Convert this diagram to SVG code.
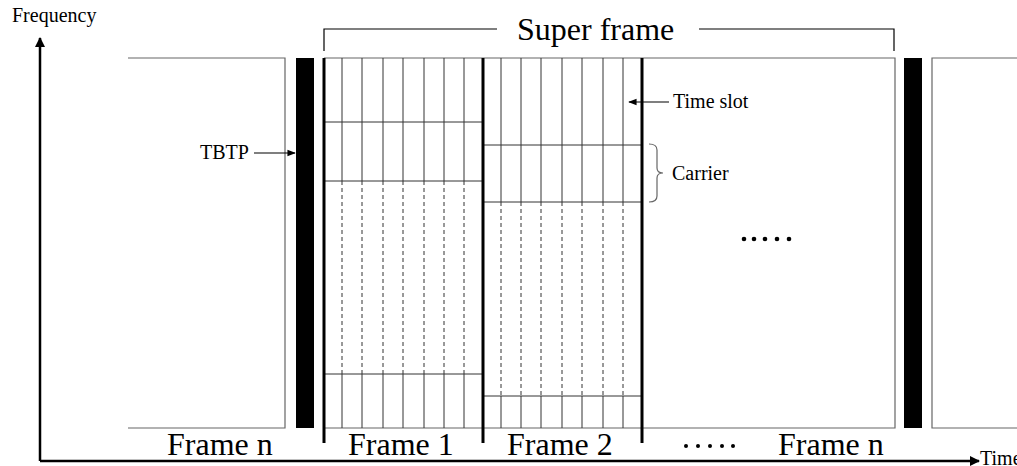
<svg xmlns="http://www.w3.org/2000/svg" width="1017" height="466" viewBox="0 0 1017 466">
<defs>
<style>
.t{font-family:"Liberation Serif","Times New Roman",serif;fill:#000}
.big{font-size:32px}
.sm{font-size:20px}
.thin{stroke:#666;stroke-width:1.2;fill:none}
.slot{stroke:#333;stroke-width:1;fill:none}
.dash{stroke:#333;stroke-width:1;stroke-dasharray:4,3;fill:none}
.thick{stroke:#000;stroke-width:3;fill:none}
.ax{stroke:#000;stroke-width:2.5;fill:none}
.ln{stroke:#000;stroke-width:1.2;fill:none}
</style>
<marker id="ah" viewBox="0 0 10 10" refX="9" refY="5" markerWidth="4" markerHeight="4" orient="auto"><path d="M0,0 L10,5 L0,10 z" fill="#000"/></marker>
<marker id="ahs" viewBox="0 0 10 10" refX="9" refY="5" markerWidth="7" markerHeight="7" orient="auto"><path d="M0,1 L10,5 L0,9 z" fill="#000"/></marker>
</defs>
<g id="axes">
<line class="ax" x1="40" y1="461" x2="40" y2="38" marker-end="url(#ah)"/>
<line class="ax" x1="40" y1="461" x2="979" y2="461" marker-end="url(#ah)"/>
<text class="t sm" x="12" y="22">Frequency</text>
<text class="t sm" x="980" y="465">Time</text>
</g>
<g id="frame-n-left">
<polyline class="thin" points="128,58 285,58 285,428 128,428"/>
<rect x="296" y="58" width="18" height="370" fill="#000"/>
<text class="t big" x="167" y="455">Frame n</text>
</g>
<g id="superframe-box">
<polyline class="thin" points="324,58 895,58 895,428 324,428"/>
</g>
<g id="frame1">
<g class="slot">
<line x1="342" y1="58" x2="342" y2="181"/><line x1="362" y1="58" x2="362" y2="181"/><line x1="383" y1="58" x2="383" y2="181"/><line x1="403" y1="58" x2="403" y2="181"/><line x1="424" y1="58" x2="424" y2="181"/><line x1="444" y1="58" x2="444" y2="181"/><line x1="464" y1="58" x2="464" y2="181"/>
<line x1="342" y1="374" x2="342" y2="428"/><line x1="362" y1="374" x2="362" y2="428"/><line x1="383" y1="374" x2="383" y2="428"/><line x1="403" y1="374" x2="403" y2="428"/><line x1="424" y1="374" x2="424" y2="428"/><line x1="444" y1="374" x2="444" y2="428"/><line x1="464" y1="374" x2="464" y2="428"/>
<line x1="324" y1="122" x2="483" y2="122"/><line x1="324" y1="181" x2="483" y2="181"/><line x1="324" y1="374" x2="483" y2="374"/>
</g>
<g class="dash">
<line x1="342" y1="181" x2="342" y2="374"/><line x1="362" y1="181" x2="362" y2="374"/><line x1="383" y1="181" x2="383" y2="374"/><line x1="403" y1="181" x2="403" y2="374"/><line x1="424" y1="181" x2="424" y2="374"/><line x1="444" y1="181" x2="444" y2="374"/><line x1="464" y1="181" x2="464" y2="374"/>
</g>
<text class="t big" x="348" y="455">Frame 1</text>
</g>
<g id="frame2">
<g class="slot">
<line x1="501" y1="58" x2="501" y2="202"/><line x1="521" y1="58" x2="521" y2="202"/><line x1="541" y1="58" x2="541" y2="202"/><line x1="562" y1="58" x2="562" y2="202"/><line x1="582" y1="58" x2="582" y2="202"/><line x1="603" y1="58" x2="603" y2="202"/><line x1="623" y1="58" x2="623" y2="202"/>
<line x1="501" y1="396" x2="501" y2="428"/><line x1="521" y1="396" x2="521" y2="428"/><line x1="541" y1="396" x2="541" y2="428"/><line x1="562" y1="396" x2="562" y2="428"/><line x1="582" y1="396" x2="582" y2="428"/><line x1="603" y1="396" x2="603" y2="428"/><line x1="623" y1="396" x2="623" y2="428"/>
<line x1="483" y1="145" x2="642" y2="145"/><line x1="483" y1="202" x2="642" y2="202"/><line x1="483" y1="396" x2="642" y2="396"/>
</g>
<g class="dash">
<line x1="501" y1="202" x2="501" y2="396"/><line x1="521" y1="202" x2="521" y2="396"/><line x1="541" y1="202" x2="541" y2="396"/><line x1="562" y1="202" x2="562" y2="396"/><line x1="582" y1="202" x2="582" y2="396"/><line x1="603" y1="202" x2="603" y2="396"/><line x1="623" y1="202" x2="623" y2="396"/>
</g>
<text class="t big" x="507" y="455">Frame 2</text>
</g>
<g id="frame-boundaries">
<line class="thick" x1="324" y1="58" x2="324" y2="443"/>
<line class="thick" x1="483" y1="58" x2="483" y2="443"/>
<line class="thick" x1="642" y1="58" x2="642" y2="443"/>
</g>
<g id="frame-n-right">
<g fill="#000"><circle cx="744" cy="239" r="2.3"/><circle cx="754" cy="239" r="2.3"/><circle cx="765" cy="239" r="2.3"/><circle cx="777" cy="239" r="2.3"/><circle cx="789" cy="239" r="2.3"/></g>
<g fill="#000"><circle cx="686" cy="446" r="2"/><circle cx="698" cy="446" r="2"/><circle cx="710" cy="446" r="2"/><circle cx="722" cy="446" r="2"/><circle cx="733" cy="446" r="2"/></g>
<text class="t big" x="778" y="455">Frame n</text>
<rect x="904" y="58" width="18" height="370" fill="#000"/>
</g>
<g id="next-frame">
<polyline class="thin" points="1017,58 932,58 932,428 1017,428"/>
</g>
<g id="superframe-label">
<polyline class="ln" points="324,51 324,29 497,29"/>
<polyline class="ln" points="699,29 894,29 894,51"/>
<text class="t big" x="517" y="40">Super frame</text>
</g>
<g id="connectors">
<line class="ln" x1="254" y1="153" x2="295" y2="153" marker-end="url(#ahs)"/>
<line class="ln" x1="669" y1="102" x2="629" y2="102" marker-end="url(#ahs)"/>
<path d="M649,144 Q657,144 657,150 L657,168 Q657,173 663,173 Q657,173 657,178 L657,196 Q657,202 649,202" stroke="#666" stroke-width="1.2" fill="none"/>
</g>
<g id="labels">
<text class="t sm" x="200" y="159">TBTP</text>
<text class="t sm" x="673" y="108">Time slot</text>
<text class="t sm" x="672" y="180">Carrier</text>
</g>
</svg>
